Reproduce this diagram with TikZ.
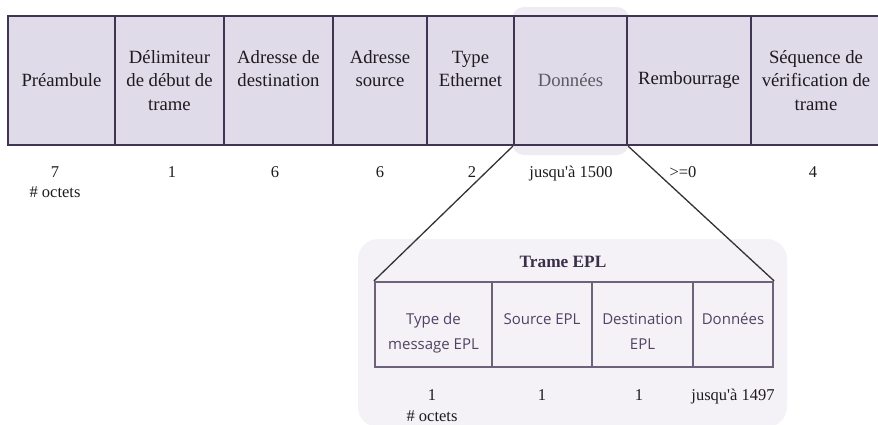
\documentclass[tikz,border=0pt]{standalone}
\usepackage{fontspec}
\setmainfont{Liberation Serif}
\newfontfamily\eplfont{Open Sans}

\definecolor{cellfill}{HTML}{E0DBE9}
\definecolor{celldraw}{HTML}{3F3452}
\definecolor{panelfill}{HTML}{F4F2F7}
\definecolor{glowfill}{HTML}{EEEBF3}
\definecolor{eplline}{HTML}{6D6279}
\definecolor{epltext}{HTML}{504262}
\definecolor{titletext}{HTML}{3A2E48}
\definecolor{greytext}{HTML}{5E5A62}
\definecolor{darktext}{HTML}{1E1A1E}

\tikzset{
  field/.style={draw=celldraw, fill=cellfill, line width=2.4pt, minimum height=129pt,
    inner sep=0pt, align=center, text=darktext, font=\fontsize{18.7}{23.5}\selectfont},
  eplfield/.style={draw=eplline, fill=panelfill, line width=2.2pt, minimum height=85pt, inner sep=0pt},
  eplname/.style={anchor=north, inner sep=0pt, align=center, text=epltext,
    font=\eplfont\fontsize{15}{25}\selectfont},
  count/.style={anchor=base, inner sep=0pt, text=darktext, font=\fontsize{16.5}{21}\selectfont},
  zoomline/.style={draw=black!80, line width=1.3pt},
}

\begin{document}
\begin{tikzpicture}[x=1pt, y=-1pt]
\def \ymid   {80.5};
\def \ycount {177.5};
\def \yoct   {197.5};
\def \yepl   {324.5};
\def \yeplc  {400.5};
\def \yeploct {421};

\useasboundingbox (0,0) rectangle (878,424);

% halo behind the data field
\fill [glowfill, rounded corners=12pt] (512,7) rectangle (629,155);

% ethernet frame
\node [field, minimum width=107pt] (pre)  at (61.5, \ymid)  {Préambule};
\node [field, minimum width=109pt] (sfd)  at (169.5, \ymid) {Délimiteur\\de début de\\trame};
\node [field, minimum width=109pt] (dst)  at (278.5, \ymid) {Adresse de\\destination\\\phantom{x}};
\node [field, minimum width=94pt]  (src)  at (380, \ymid)   {Adresse\\source\\\phantom{x}};
\node [field, minimum width=87pt]  (type) at (470.5, \ymid) {Type\\Ethernet\\\phantom{x}};
\node [field, minimum width=113pt, text=greytext] (data) at (570.5, \ymid) {Données};
\node [field, minimum width=124pt] (pad)  at (689, \ymid)   {Rembourrage};
\node [field, minimum width=130pt] (fcs)  at (816, \ymid)   {Séquence de\\vérification de\\trame};

% sizes
\node [count] (npre)  at (55, \ycount)  {7};
\node [count] (octa)  at (55, \yoct)    {\# octets};
\node [count] (nsfd)  at (172, \ycount) {1};
\node [count] (ndst)  at (275, \ycount) {6};
\node [count] (nsrc)  at (380, \ycount) {6};
\node [count] (ntype) at (472, \ycount) {2};
\node [count] (ndata) at (571, \ycount) {jusqu\textquotesingle à 1500};
\node [count] (npad)  at (683, \ycount) {>=0};
\node [count] (nfcs)  at (813, \ycount) {4};

% EPL frame
\fill [panelfill, rounded corners=20pt] (358,239) rectangle (787,427);
\node [count, font=\bfseries\fontsize{17.3}{21}\selectfont, text=titletext] (trame) at (563, 267.7) {Trame EPL};

\node [eplfield, minimum width=117pt] (epltype) at (433.5, \yepl) {};
\node [eplfield, minimum width=100pt] (eplsrc)  at (542, \yepl)   {};
\node [eplfield, minimum width=101pt] (epldst)  at (642.5, \yepl) {};
\node [eplfield, minimum width=80pt]  (epldata) at (733, \yepl)   {};

\node [eplname] (ltype) at ([yshift=-30pt]epltype.north) {\rule{0pt}{13pt}Type de\\message EPL};
\node [eplname] (lsrc)  at ([yshift=-30pt]eplsrc.north)  {\rule{0pt}{13pt}Source EPL};
\node [eplname] (ldst)  at ([yshift=-30pt]epldst.north)  {\rule{0pt}{13pt}Destination\\EPL};
\node [eplname] (ldata) at ([yshift=-30pt]epldata.north) {\rule{0pt}{13pt}Données};

\node [count] (etype) at (432, \yeplc)   {1};
\node [count] (octb)  at (432, \yeploct) {\# octets};
\node [count] (esrc)  at (542, \yeplc)   {1};
\node [count] (edst)  at (639, \yeplc)   {1};
\node [count] (edata) at (733, \yeplc)   {jusqu\textquotesingle à 1497};

% zoom lines
\draw [zoomline] (data.south west) -- (epltype.north west);
\draw [zoomline] (data.south east) -- (epldata.north east);

\end{tikzpicture}
\end{document}
